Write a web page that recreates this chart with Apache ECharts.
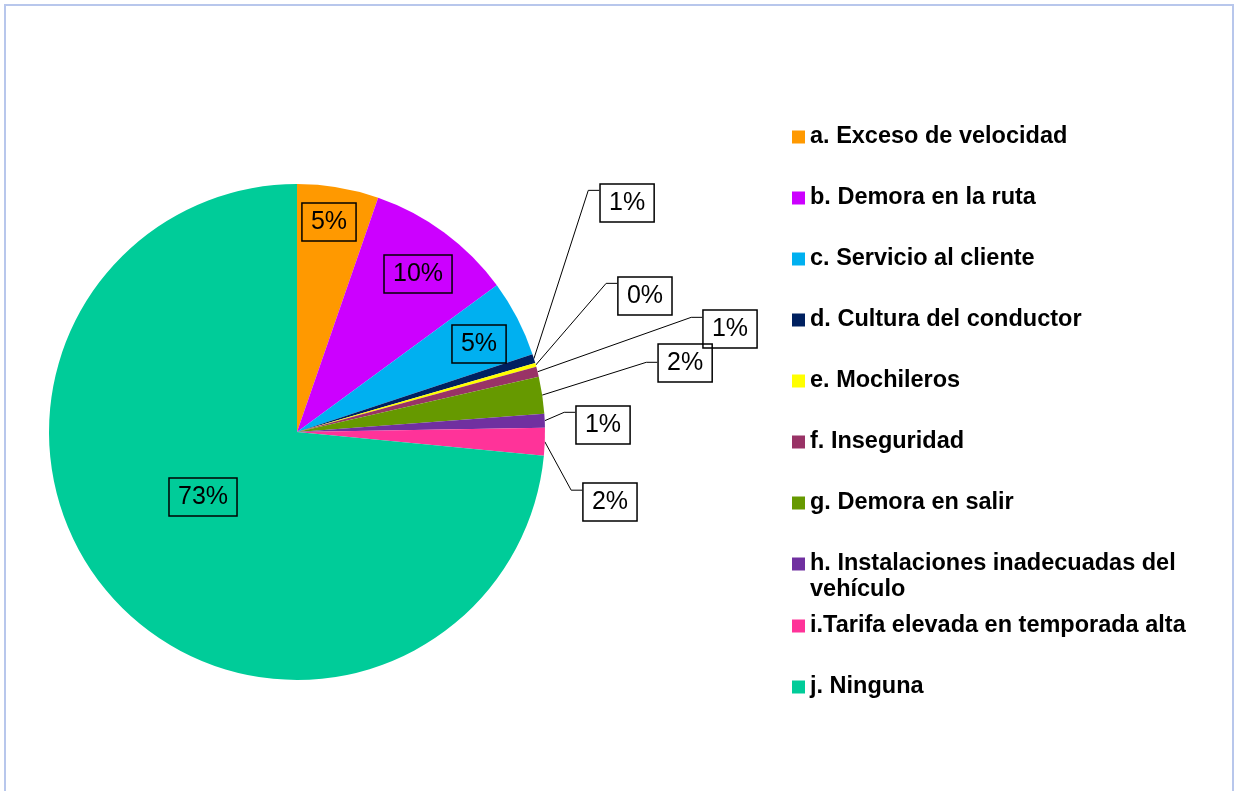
<!DOCTYPE html>
<html>
<head>
<meta charset="utf-8">
<script src="https://cdn.jsdelivr.net/npm/echarts@6/dist/echarts.min.js"></script>
<style>
  html, body { margin: 0; padding: 0; background: #fff; }
  #chart { width: 1238px; height: 791px; }
</style>
</head>
<body>
<div id="chart"></div>
<script>
// categorias y porcentajes
const categories = [
  'a. Exceso de velocidad',
  'b. Demora en la ruta',
  'c. Servicio al cliente',
  'd. Cultura del conductor',
  'e. Mochileros',
  'f. Inseguridad',
  'g. Demora en salir',
  'h. Instalaciones inadecuadas del vehículo',
  'i.Tarifa elevada en temporada alta',
  'j. Ninguna'
];
const values = [5.3, 9.6, 5.0, 0.6, 0.25, 0.65, 2.4, 0.9, 1.8, 73.4];
const colors = ['#FF9900', '#CC00FF', '#00B0F0', '#002060', '#FFFF00',
                '#993366', '#669900', '#7030A0', '#FF3399', '#00CC99'];

// layout
const cx = 297, cy = 432, R = 248;
const insideLabel = [true, true, true, false, false, false, false, false, false, true];
// centro de cada etiqueta respecto al centro del pastel, en radios
const labelSpots = [
  [0.129, -0.847], [0.488, -0.637], [0.734, -0.355], [1.331, -0.923], [1.403, -0.548],
  [1.746, -0.415], [1.565, -0.278], [1.234, -0.028], [1.262, 0.282], [-0.379, 0.262]
];
// donde entra la linea guia en la caja (px desde arriba)
const lineAttach = [0, 0, 0, 7, 7, 8, 19, 7, 8, 0];

const font = "'Liberation Sans', Arial, sans-serif";

const legendBase = {
  orient: 'vertical',
  left: 792,
  padding: 0,
  icon: 'rect',
  itemWidth: 13,
  itemHeight: 13,
  itemGap: 35,
  selectedMode: false,
  textStyle: {
    fontFamily: font,
    fontSize: 23.5,
    fontWeight: 'bold',
    color: '#000',
    lineHeight: 26
  }
};

const chart = echarts.init(document.getElementById('chart'));

chart.setOption({
  animation: false,
  color: colors,
  graphic: [{
    type: 'rect',
    shape: { x: 5, y: 5, width: 1228, height: 800 },
    style: { fill: 'none', stroke: '#b8c7ec', lineWidth: 2 },
    silent: true
  }],
  legend: [
    Object.assign({}, legendBase, { top: 124, data: categories.slice(0, 7) }),
    Object.assign({}, legendBase, {
      top: 525,
      data: categories.slice(7, 8),
      // linea vacia arriba para que la primera linea quede junto al icono
      formatter: () => '\nh. Instalaciones inadecuadas del\nvehículo'
    }),
    Object.assign({}, legendBase, { top: 613, data: categories.slice(8) })
  ],
  series: [{
    type: 'pie',
    center: [cx, cy],
    radius: R,
    startAngle: 90,
    clockwise: true,
    avoidLabelOverlap: false,
    itemStyle: { borderWidth: 0 },
    label: {
      formatter: (p) => Math.round(p.percent) + '%',
      fontFamily: font,
      fontSize: 25,
      lineHeight: 25,
      color: '#000',
      borderColor: '#000',
      borderWidth: 1.5,
      padding: [7, 9, 6, 9]
    },
    labelLine: {
      lineStyle: { color: '#000', width: 1 },
      length: 20,
      length2: 12
    },
    labelLayout: (params) => {
      const i = params.dataIndex;
      const s = labelSpots[i];
      const x = cx + s[0] * R;
      const y = cy + s[1] * R;
      const out = { x: x, y: y, align: 'center', verticalAlign: 'middle' };
      const pts = params.labelLinePoints;
      if (!insideLabel[i] && pts) {
        const left = x - params.labelRect.width / 2;
        const ay = y - params.labelRect.height / 2 + lineAttach[i];
        out.labelLinePoints = [pts[0], [left - 11, ay], [left, ay]];
      }
      return out;
    },
    data: categories.map((name, i) => ({
      name: name,
      value: values[i],
      label: { position: insideLabel[i] ? 'inside' : 'outside' },
      labelLine: { show: !insideLabel[i] }
    }))
  }]
});
</script>
</body>
</html>
